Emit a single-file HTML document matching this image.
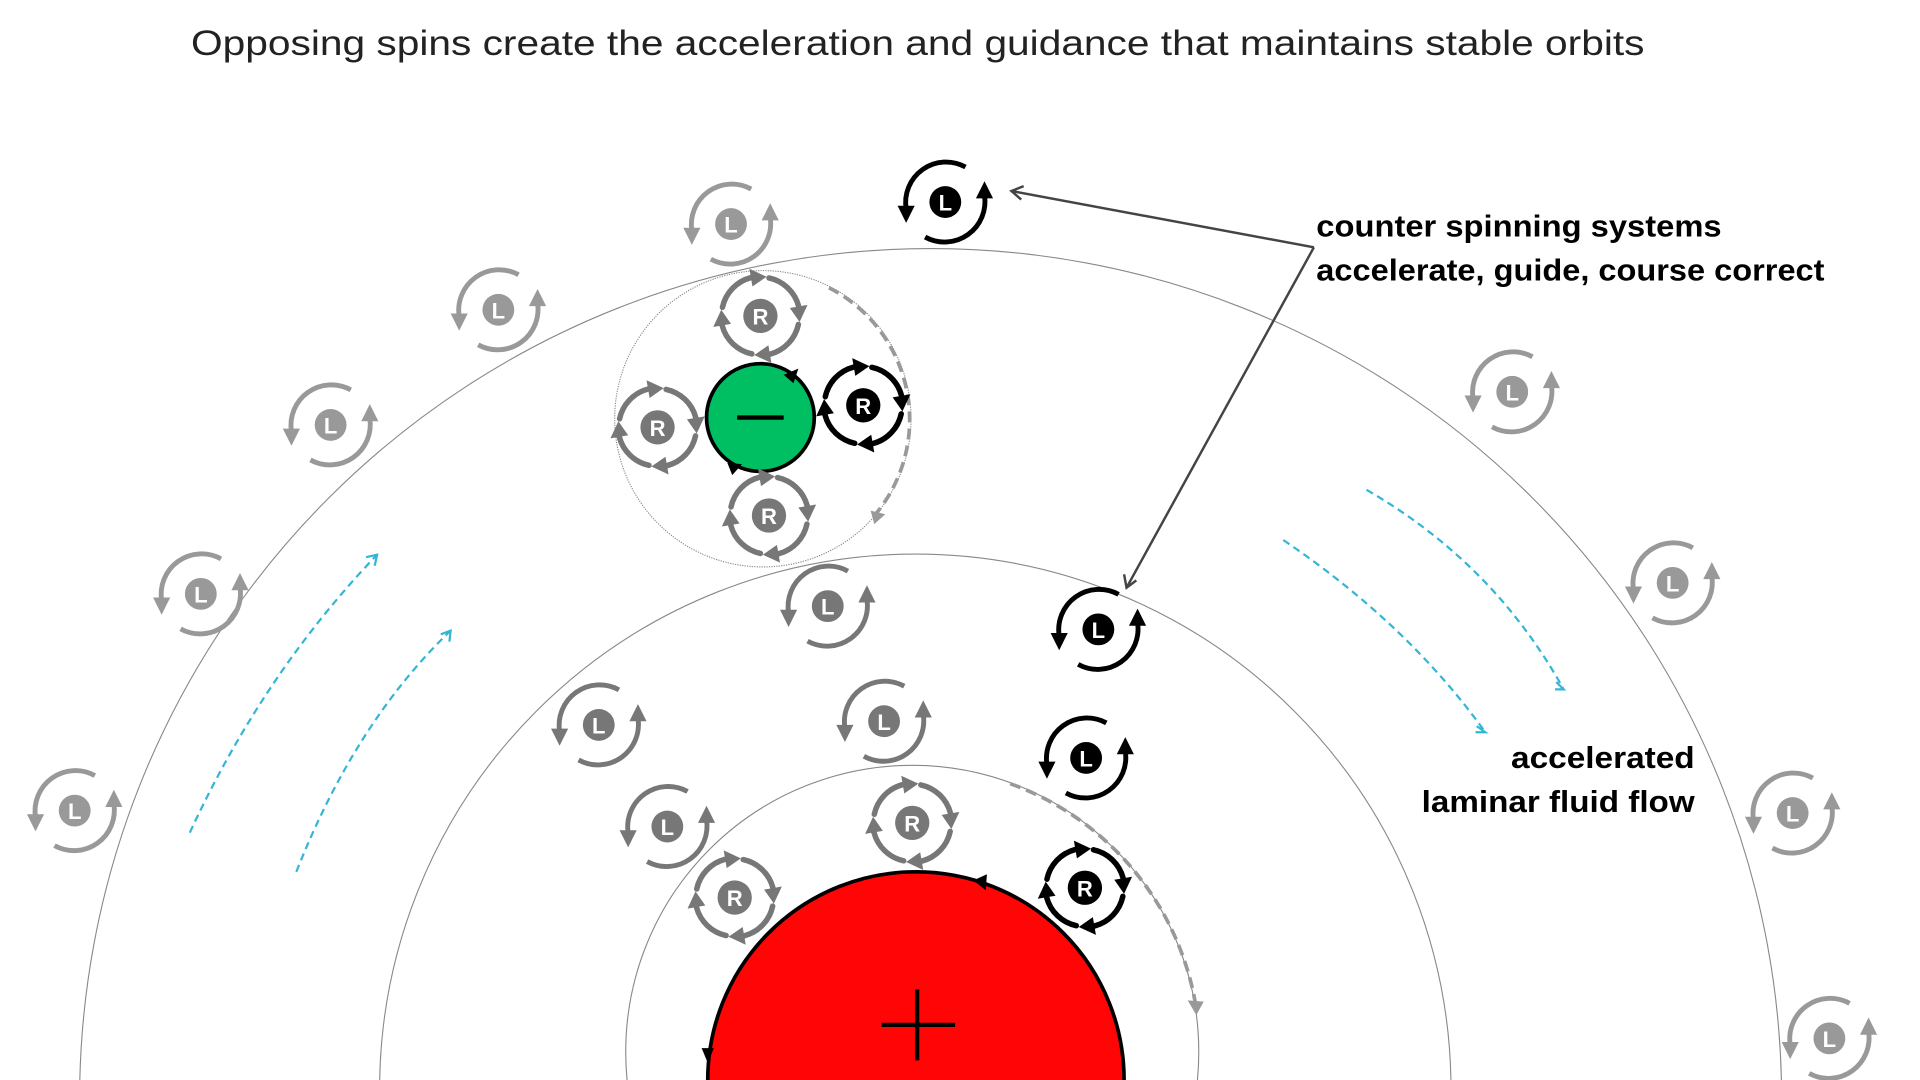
<!DOCTYPE html>
<html><head><meta charset="utf-8"><style>
html,body{margin:0;padding:0;background:#fff;width:1920px;height:1080px;overflow:hidden}
svg{display:block;position:absolute;left:0;top:0}
.lt{font-family:"Liberation Sans",sans-serif;font-weight:bold;font-size:18px;fill:#fff;text-anchor:middle}
.lab{font-family:"Liberation Sans",sans-serif;font-weight:bold;font-size:25px;fill:#000}
</style></head><body>
<svg width="1920" height="1080" viewBox="0 0 1568 882" xmlns="http://www.w3.org/2000/svg" xmlns:xlink="http://www.w3.org/1999/xlink">
<defs>
<g id="Ls" fill="none" stroke="currentColor" stroke-width="4">
  <path d="M16.5 -28.6 A33 33 0 0 0 -31.9 6"/>
  <polygon points="-39,3 -25,3 -32,17" fill="currentColor" stroke="none"/>
  <path d="M-16.5 28.6 A33 33 0 0 0 31.9 -6"/>
  <polygon points="25,-3 39,-3 32,-17" fill="currentColor" stroke="none"/>
</g>
<g id="seg" fill="none" stroke="currentColor" stroke-width="4.5" stroke-linecap="round">
  <path d="M7 -31 A32 32 0 0 1 31.2 -8"/>
  <polygon points="38.5,-9 24,-6.5 32,5" fill="currentColor" stroke="none"/>
</g>
<g id="Rs">
  <use xlink:href="#seg"/>
  <use xlink:href="#seg" transform="rotate(90)"/>
  <use xlink:href="#seg" transform="rotate(180)"/>
  <use xlink:href="#seg" transform="rotate(270)"/>
</g>
</defs>

<text x="156" y="45" font-family="Liberation Sans, sans-serif" font-size="29" fill="#222" textLength="1187" lengthAdjust="spacingAndGlyphs">Opposing spins create the acceleration and guidance that maintains stable orbits</text>

<g fill="none" stroke="#888" stroke-width="0.9">
  <circle cx="760" cy="898" r="695"/>
  <circle cx="747.5" cy="890" r="437.5"/>
  <circle cx="745" cy="859" r="234"/>
  <circle cx="623" cy="342" r="121" stroke-dasharray="1 1"/>
</g>

<circle cx="748" cy="882" r="170" fill="#FF0505" stroke="#000" stroke-width="3"/>
<path d="M749 808 V866 M720 837 H780" stroke="#000" stroke-width="3.5"/>
<polygon points="795,719 806,714 805,727" fill="#000"/>
<polygon points="573,856 583,856 578,868" fill="#000"/>

<circle cx="621" cy="341" r="44" fill="#00BF63" stroke="#000" stroke-width="3"/>
<path d="M602 341 H640" stroke="#000" stroke-width="3.5"/>
<polygon points="640,306 652,301 648,313" fill="#000"/>
<polygon points="594,378 606,379 598,388" fill="#000"/>

<g fill="none" stroke="#999" stroke-width="3" stroke-dasharray="9 5">
  <path d="M677 235 A121 121 0 0 1 715 420"/>
  <path d="M825 640 A234 234 0 0 1 976 818"/>
</g>
<polygon points="711,417 723,420 714,428" fill="#999"/>
<polygon points="970,817 983,818 977,829" fill="#999"/>

<g fill="none" stroke="#33B5D5" stroke-width="1.8" stroke-dasharray="6 4">
  <path d="M155 680 Q215 550 308 453"/>
  <path d="M242 712 Q290 590 368 515"/>
  <path d="M1116 400 Q1220 460 1277 563"/>
  <path d="M1048 441 Q1150 510 1213 598"/>
  <path d="M299 455 L308 453 L306 462" stroke-dasharray="none"/>
  <path d="M360 518 L368 515 L367 524" stroke-dasharray="none"/>
  <path d="M1271 557 L1277 563 L1270 563" stroke-dasharray="none"/>
  <path d="M1206 593 L1213 598 L1205 598" stroke-dasharray="none"/>
</g>

<g fill="none" stroke="#444" stroke-width="2">
  <path d="M1073 202 L826 156 M1073 202 L920 480"/>
  <path d="M836 152 L826 156 L834 163"/>
  <path d="M918 469 L920 480 L928 474"/>
</g>

<g color="#999">
  <use xlink:href="#Ls" x="597" y="183"/><circle cx="597" cy="183" r="13" fill="#999"/><text class="lt" x="597" y="190">L</text>
  <use xlink:href="#Ls" x="407" y="253"/><circle cx="407" cy="253" r="13" fill="#999"/><text class="lt" x="407" y="260">L</text>
  <use xlink:href="#Ls" x="270" y="347"/><circle cx="270" cy="347" r="13" fill="#999"/><text class="lt" x="270" y="354">L</text>
  <use xlink:href="#Ls" x="164" y="485"/><circle cx="164" cy="485" r="13" fill="#999"/><text class="lt" x="164" y="492">L</text>
  <use xlink:href="#Ls" x="61" y="662"/><circle cx="61" cy="662" r="13" fill="#999"/><text class="lt" x="61" y="669">L</text>
  <use xlink:href="#Ls" x="1235" y="320"/><circle cx="1235" cy="320" r="13" fill="#999"/><text class="lt" x="1235" y="327">L</text>
  <use xlink:href="#Ls" x="1366" y="476"/><circle cx="1366" cy="476" r="13" fill="#999"/><text class="lt" x="1366" y="483">L</text>
  <use xlink:href="#Ls" x="1464" y="664"/><circle cx="1464" cy="664" r="13" fill="#999"/><text class="lt" x="1464" y="671">L</text>
  <use xlink:href="#Ls" x="1494" y="848"/><circle cx="1494" cy="848" r="13" fill="#999"/><text class="lt" x="1494" y="855">L</text>
</g>
<g color="#777">
  <use xlink:href="#Ls" x="676" y="495"/><circle cx="676" cy="495" r="13" fill="#777"/><text class="lt" x="676" y="502">L</text>
  <use xlink:href="#Ls" x="489" y="592"/><circle cx="489" cy="592" r="13" fill="#777"/><text class="lt" x="489" y="599">L</text>
  <use xlink:href="#Ls" x="722" y="589"/><circle cx="722" cy="589" r="13" fill="#777"/><text class="lt" x="722" y="596">L</text>
  <use xlink:href="#Ls" x="545" y="675"/><circle cx="545" cy="675" r="13" fill="#777"/><text class="lt" x="545" y="682">L</text>
</g>
<g color="#000">
  <use xlink:href="#Ls" x="772" y="165"/><circle cx="772" cy="165" r="13" fill="#000"/><text class="lt" x="772" y="172">L</text>
  <use xlink:href="#Ls" x="897" y="514"/><circle cx="897" cy="514" r="13" fill="#000"/><text class="lt" x="897" y="521">L</text>
  <use xlink:href="#Ls" x="887" y="619"/><circle cx="887" cy="619" r="13" fill="#000"/><text class="lt" x="887" y="626">L</text>
</g>

<g color="#777">
  <use xlink:href="#Rs" transform="translate(621 258)"/><circle cx="621" cy="258" r="14" fill="#777"/><text class="lt" x="621" y="265">R</text>
  <use xlink:href="#Rs" transform="translate(537 349)"/><circle cx="537" cy="349" r="14" fill="#777"/><text class="lt" x="537" y="356">R</text>
  <use xlink:href="#Rs" transform="translate(628 421)"/><circle cx="628" cy="421" r="14" fill="#777"/><text class="lt" x="628" y="428">R</text>
  <use xlink:href="#Rs" transform="translate(745 672)"/><circle cx="745" cy="672" r="14" fill="#777"/><text class="lt" x="745" y="679">R</text>
  <use xlink:href="#Rs" transform="translate(600 733)"/><circle cx="600" cy="733" r="14" fill="#777"/><text class="lt" x="600" y="740">R</text>
</g>
<g color="#000">
  <use xlink:href="#Rs" transform="translate(705 331)"/><circle cx="705" cy="331" r="14" fill="#000"/><text class="lt" x="705" y="338">R</text>
  <use xlink:href="#Rs" transform="translate(886 725)"/><circle cx="886" cy="725" r="14" fill="#000"/><text class="lt" x="886" y="732">R</text>
</g>

<text class="lab" x="1075" y="193" textLength="331" lengthAdjust="spacingAndGlyphs">counter spinning  systems</text>
<text class="lab" x="1075" y="229" textLength="415" lengthAdjust="spacingAndGlyphs">accelerate, guide, course correct</text>
<text class="lab" x="1234" y="627" textLength="150" lengthAdjust="spacingAndGlyphs">accelerated</text>
<text class="lab" x="1161" y="663" textLength="223" lengthAdjust="spacingAndGlyphs">laminar fluid flow</text>
</svg>
</body></html>
